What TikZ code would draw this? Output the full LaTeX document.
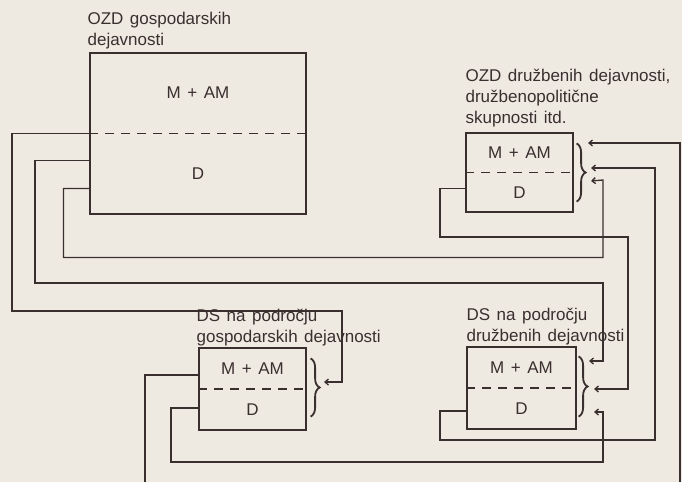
\documentclass[tikz,border=0pt]{standalone}
\usepackage{fontspec}
\setmainfont{Liberation Sans}
\usetikzlibrary{arrows.meta,positioning,calc,decorations.pathreplacing}
\definecolor{ink}{HTML}{3A2F2F}
\definecolor{paper}{HTML}{EEEAE1}
\newcommand\widesp{\spaceskip=6.5pt plus 1pt\relax}

\begin{document}
\begin{tikzpicture}[x=1pt,y=-1pt,
  unit/.style={draw=ink,line width=1.2pt,inner sep=0pt},
  ttl/.style={align=left,inner sep=0pt,text=ink,font=\fontsize{17}{21}\selectfont\widesp},
  lbl/.style={inner sep=0pt,text=ink,font=\fontsize{17}{21}\selectfont\widesp},
  split/.style={draw=ink,line width=1.1pt,dash pattern=on 9pt off 7pt},
  link/.style={draw=ink,line width=1.3pt},
  arr/.style={link,-{Straight Barb[length=3.5pt,width=6pt]}},
  brc/.style={draw=ink,line width=1.8pt,decorate,decoration={brace,amplitude=9pt}}]
  \fill[paper] (0,0) rectangle (682,482);
  \useasboundingbox (0,0) rectangle (682,482);
  % units
  \node[unit,minimum width=216pt,minimum height=161pt] (ozdg) at (198,133.5) {};
  \node[unit,minimum width=107pt,minimum height=79pt] (ozdd) at (519.5,172.5) {};
  \node[unit,minimum width=107pt,minimum height=82pt] (dsg) at (252.5,389) {};
  \node[unit,minimum width=109pt,minimum height=82pt] (dsd) at (521.5,388) {};
  \foreach \b in {ozdg,ozdd,dsg,dsd} {
    \draw[split] (\b.west) -- (\b.east);
    \node[lbl] (\b-m) at ($(\b.north)!0.5!(\b.center)$) {M + AM};
    \node[lbl] (\b-d) at ($(\b.center)!0.5!(\b.south)$) {D};
  }
  % titles
  \node[ttl,above=3pt of ozdg.north west,anchor=south west,xshift=-2pt] (ozdg-t) {OZD gospodarskih\\dejavnosti};
  \node[ttl,above=5pt of ozdd.north west,anchor=south west] (ozdd-t) {OZD družbenih dejavnosti,\\družbenopolitične\\skupnosti itd.};
  \node[ttl,above=1pt of dsg.north west,anchor=south west,xshift=-2pt] (dsg-t) {DS na področju\\gospodarskih dejavnosti};
  \node[ttl,above=1pt of dsd.north west,anchor=south west] (dsd-t) {DS na področju\\družbenih dejavnosti};
  % braces
  \draw[brc] ([xshift=3pt,yshift=-11pt]ozdd.north east) -- ([xshift=3pt,yshift=11pt]ozdd.south east);
  \draw[brc] ([xshift=4pt,yshift=-11pt]dsg.north east) -- ([xshift=4pt,yshift=14pt]dsg.south east);
  \draw[brc] ([xshift=2pt,yshift=-10pt]dsd.north east) -- ([xshift=2pt,yshift=13pt]dsd.south east);
  \coordinate (ozdd-in1) at (588,143);
  \coordinate (ozdd-in2) at (591,168);
  \coordinate (ozdd-in3) at (591,181);
  \coordinate (dsd-in1) at (589,361);
  \coordinate (dsd-in2) at (594,389);
  \coordinate (dsd-in3) at (594,412);
  \coordinate (dsg-in) at (324,382);
  \coordinate (out-s) at (145,482);
  \coordinate (out-e) at (680,482);
  % flows
  \draw[arr] (ozdg.west) -| (12,311) -| (342,382) -- (dsg-in);
  \draw[arr] ([yshift=-27pt]ozdg.west) -| (35,283) -| (603,361) -- (dsd-in1);
  \draw[arr] ([yshift=-55pt]ozdg.west) -| (63.5,257.5) -| (603,180) -- (ozdd-in3);
  \draw[arr] ([yshift=-16pt]ozdd.west) -| (440,237) -| (628,389) -- (dsd-in2);
  \draw[arr] ([yshift=-23pt]dsd.west) -| (440,440) -| (655,168) -- (ozdd-in2);
  \draw[link] ([yshift=14pt]dsg.west) -| (out-s);
  \draw[arr] ([yshift=-19pt]dsg.west) -| (171,462) -| (603,412) -- (dsd-in3);
  \draw[arr] (out-e) |- (ozdd-in1);
\end{tikzpicture}
\end{document}
